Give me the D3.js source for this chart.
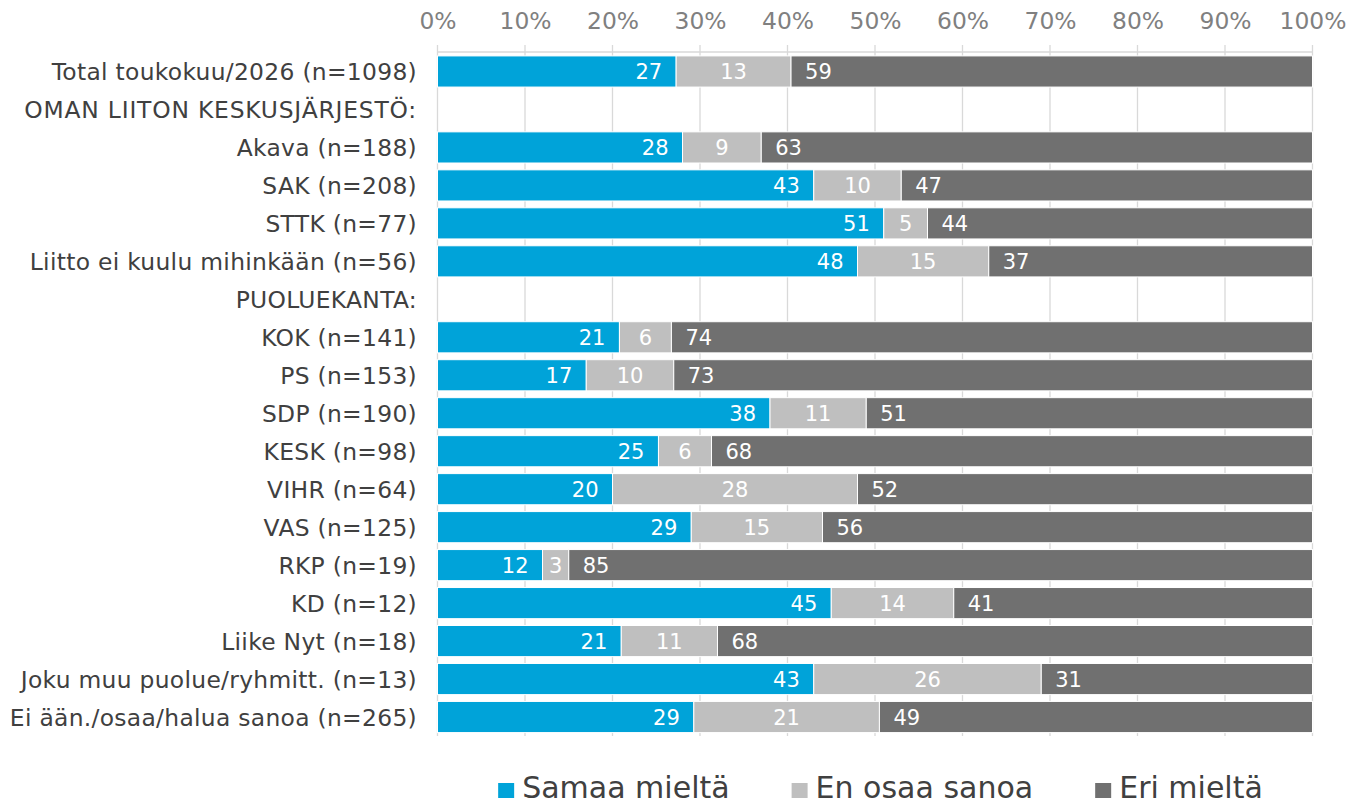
<!DOCTYPE html>
<html>
<head>
<meta charset="utf-8">
<script src="https://cdn.jsdelivr.net/npm/d3@7"></script>
<style>
html,body{margin:0;padding:0;background:#fff;}
svg{display:block;font-family:"DejaVu Sans",Verdana,sans-serif;}
</style>
</head>
<body>
<svg id="chart" width="1348" height="806"></svg>
<script>
const categories = [
  "Total toukokuu/2026 (n=1098)",
  "OMAN LIITON KESKUSJÄRJESTÖ:",
  "Akava (n=188)",
  "SAK (n=208)",
  "STTK (n=77)",
  "Liitto ei kuulu mihinkään (n=56)",
  "PUOLUEKANTA:",
  "KOK (n=141)",
  "PS (n=153)",
  "SDP (n=190)",
  "KESK (n=98)",
  "VIHR (n=64)",
  "VAS (n=125)",
  "RKP (n=19)",
  "KD (n=12)",
  "Liike Nyt (n=18)",
  "Joku muu puolue/ryhmitt. (n=13)",
  "Ei ään./osaa/halua sanoa (n=265)"
];
const seriesNames = ["Samaa mieltä", "En osaa sanoa", "Eri mieltä"];
const samaa = [27, null, 28, 43, 51, 48, null, 21, 17, 38, 25, 20, 29, 12, 45, 21, 43, 29];
const enOsaa = [13, null, 9, 10, 5, 15, null, 6, 10, 11, 6, 28, 15, 3, 14, 11, 26, 21];
const eri = [59, null, 63, 47, 44, 37, null, 74, 73, 51, 68, 52, 56, 85, 41, 68, 31, 49];
const tickValues = [0, 0.1, 0.2, 0.3, 0.4, 0.5, 0.6, 0.7, 0.8, 0.9, 1.0];
const colors = ["#00a3d9", "#bfbfbf", "#707070"];

const svg = d3.select("#chart");
const FONT_LBL = 23.4, FONT_TICK = 23.4, FONT_DATA = 21, FONT_LEG = 30;

const x = d3.scaleLinear().domain([0, 1]).range([437.5, 1312.5]);
const y = d3.scaleBand().domain(categories).range([52.5, 736]).paddingInner(0.18).paddingOuter(0.09);

const rows = categories.map((c, i) => ({cat: c, s0: samaa[i], s1: enOsaa[i], s2: eri[i]}));
const barRows = rows.filter(r => r.s0 != null);
const keys = ["s0", "s1", "s2"];
const stack = d3.stack().keys(keys).offset(d3.stackOffsetExpand);
const stacked = stack(barRows);

// gridlines
const grid = svg.append("g");
grid.selectAll("line").data(tickValues).join("line")
  .attr("x1", d => x(d)).attr("x2", d => x(d))
  .attr("y1", 45).attr("y2", 736)
  .attr("stroke", "#d9d9d9").attr("stroke-width", 1.3);
grid.append("line")
  .attr("x1", x(0)).attr("x2", x(1)).attr("y1", 52).attr("y2", 52)
  .attr("stroke", "#d9d9d9").attr("stroke-width", 1.3);

// top axis labels
const axis = d3.axisTop(x).tickValues(tickValues).tickFormat(d3.format(".0%")).tickSize(0).tickPadding(0);
const ag = svg.append("g").attr("transform", "translate(0,29)").call(axis);
ag.select(".domain").remove();
ag.selectAll("text").attr("font-size", FONT_TICK).attr("fill", "#808080")
  .attr("font-family", "DejaVu Sans, Verdana, sans-serif").attr("dy", 0).attr("y", 0);

// bars
const layers = svg.append("g").selectAll("g").data(stacked).join("g")
  .attr("fill", (d, i) => colors[i]);
layers.selectAll("rect").data(d => d).join("rect")
  .attr("x", d => x(d[0]))
  .attr("width", d => x(d[1]) - x(d[0]))
  .attr("y", d => y(d.data.cat))
  .attr("height", y.bandwidth())
  .attr("stroke", "#ffffff").attr("stroke-width", 1);

// data labels
const lab = svg.append("g").attr("font-size", FONT_DATA).attr("fill", "#ffffff");
stacked.forEach((layer, li) => {
  lab.selectAll(null).data(layer).join("text")
    .attr("x", d => li === 0 ? x(d[1]) - 14 : li === 1 ? (x(d[0]) + x(d[1])) / 2 : x(d[0]) + 14)
    .attr("y", d => y(d.data.cat) + y.bandwidth() / 2 + 7.5)
    .attr("text-anchor", li === 0 ? "end" : li === 1 ? "middle" : "start")
    .text(d => d.data[keys[li]]);
});

// category labels
svg.append("g").selectAll("text").data(categories).join("text")
  .attr("x", 417)
  .attr("y", d => y(d) + y.bandwidth() / 2 + 8.5)
  .attr("text-anchor", "end")
  .attr("font-size", FONT_LBL)
  .attr("letter-spacing", d => d.startsWith("OMAN") ? 0.8 : 0.3)
  .attr("fill", "#404040")
  .text(d => d);

// legend
const leg = svg.append("g");
const items = leg.selectAll("g").data(seriesNames).join("g");
items.append("rect").attr("width", 16).attr("height", 15).attr("y", 783)
  .attr("fill", (d, i) => colors[i]);
items.append("text").attr("x", 24).attr("y", 798)
  .attr("font-size", FONT_LEG).attr("fill", "#404040").text(d => d);
let cx = 0;
const widths = [];
items.each(function() {
  const w = d3.select(this).select("text").node().getComputedTextLength() + 24;
  widths.push(w);
});
const gap = 62;
const total = d3.sum(widths) + gap * (widths.length - 1);
cx = 880.5 - total / 2;
items.attr("transform", (d, i) => {
  const t = `translate(${cx},0)`;
  cx += widths[i] + gap;
  return t;
});
</script>
</body>
</html>
